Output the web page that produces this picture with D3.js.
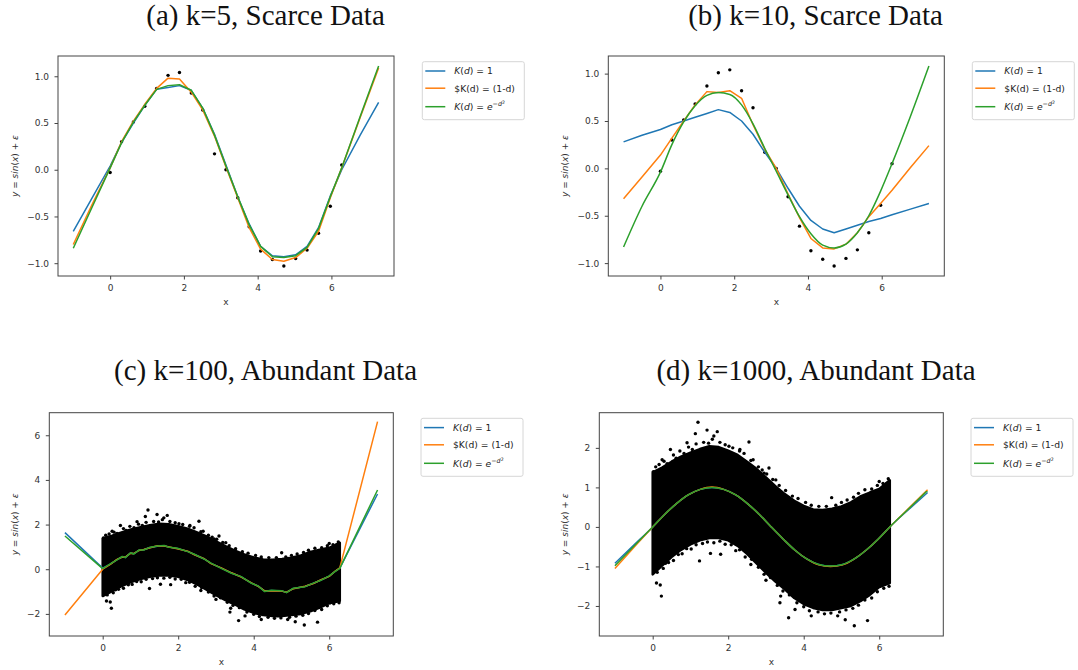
<!DOCTYPE html>
<html>
<head>
<meta charset="utf-8">
<script src="https://cdn.jsdelivr.net/npm/d3@7"></script>
<style>
body { margin: 0; background: #fff; }
svg { display: block; }
.tick text { font-family: "DejaVu Sans", sans-serif; font-size: 9px; fill: #333; }
.tick line { stroke: #444; }
</style>
</head>
<body>
<script>
// x positions where the regression curves were evaluated (panels a, b, d)
var xGrid = [-1, -0.5, 0, 0.31, 0.63, 0.94, 1.26, 1.57, 1.88, 2.20, 2.51, 2.83, 3.14, 3.46, 3.77, 4.08, 4.40, 4.71, 5.03, 5.34, 5.65, 5.97, 6.28, 6.78, 7.28];

// the 21 noisy samples shown in the scarce-data panels
var scatterX = [0, 0.31, 0.63, 0.94, 1.26, 1.57, 1.88, 2.20, 2.51, 2.83, 3.14, 3.46, 3.77, 4.08, 4.40, 4.71, 5.03, 5.34, 5.65, 5.97, 6.28];
var scatterY = [-0.03, 0.30, 0.51, 0.68, 0.87, 1.01, 1.04, 0.82, 0.64, 0.17, 0.00, -0.30, -0.61, -0.87, -0.96, -1.03, -0.95, -0.86, -0.68, -0.39, 0.05];

// (a) k=5
var blueA   = [-0.66, -0.31, 0.04, 0.29, 0.50, 0.69, 0.86, 0.88, 0.90, 0.85, 0.66, 0.38, 0.05, -0.29, -0.58, -0.82, -0.92, -0.93, -0.91, -0.82, -0.62, -0.28, 0.00, 0.37, 0.72];
var orangeA = [-0.80, -0.38, 0.02, 0.30, 0.52, 0.70, 0.87, 0.98, 0.97, 0.83, 0.64, 0.36, 0.03, -0.30, -0.62, -0.85, -0.96, -0.98, -0.94, -0.84, -0.66, -0.30, 0.02, 0.56, 1.09];
var greenA  = [-0.84, -0.41, 0.02, 0.29, 0.51, 0.69, 0.86, 0.90, 0.91, 0.85, 0.66, 0.37, 0.04, -0.29, -0.59, -0.82, -0.93, -0.94, -0.92, -0.83, -0.63, -0.29, 0.02, 0.57, 1.11];

// (b) k=10
var blueB   = [0.28, 0.35, 0.41, 0.46, 0.50, 0.54, 0.58, 0.62, 0.59, 0.50, 0.36, 0.17, 0.00, -0.21, -0.40, -0.55, -0.64, -0.68, -0.64, -0.60, -0.56, -0.53, -0.49, -0.43, -0.37];
var orangeB = [-0.32, -0.09, 0.14, 0.32, 0.50, 0.67, 0.81, 0.80, 0.82, 0.74, 0.46, 0.20, 0.00, -0.27, -0.52, -0.74, -0.84, -0.85, -0.80, -0.68, -0.51, -0.37, -0.23, 0.01, 0.24];
var greenB  = [-0.83, -0.40, -0.04, 0.25, 0.49, 0.66, 0.77, 0.80, 0.78, 0.67, 0.47, 0.21, -0.03, -0.28, -0.51, -0.69, -0.81, -0.84, -0.80, -0.68, -0.50, -0.24, 0.05, 0.55, 1.08];

// (c) k=100 : the curve is jagged, so it has its own x positions
var xGridC  = [-1, 0, 0.20, 0.38, 0.52, 0.60, 0.74, 0.82, 0.96, 1.09, 1.23, 1.45, 1.63, 1.76, 1.98, 2.25, 2.43, 2.69, 2.87, 3.14, 3.41, 3.67, 3.94, 4.12, 4.29, 4.47, 4.74, 4.87, 5.05, 5.36, 5.58, 5.80, 6.00, 6.16, 6.28, 7.28];
var blueC   = [1.64, 0.05, 0.23, 0.43, 0.56, 0.53, 0.73, 0.69, 0.85, 0.87, 0.96, 1.03, 1.05, 0.99, 0.93, 0.80, 0.66, 0.46, 0.26, 0.05, -0.17, -0.34, -0.62, -0.76, -0.98, -0.95, -0.97, -1.04, -0.86, -0.77, -0.63, -0.47, -0.31, -0.09, 0.05, 3.37];
var orangeC = [-2.05, 0.00, 0.22, 0.44, 0.55, 0.54, 0.72, 0.70, 0.84, 0.88, 0.95, 1.05, 1.04, 1.00, 0.92, 0.81, 0.65, 0.47, 0.25, 0.06, -0.16, -0.35, -0.61, -0.77, -0.97, -0.96, -0.98, -1.03, -0.87, -0.76, -0.64, -0.46, -0.32, -0.08, 0.06, 6.61];
var greenC  = [1.49, 0.03, 0.24, 0.42, 0.57, 0.52, 0.74, 0.68, 0.86, 0.86, 0.97, 1.04, 1.06, 0.98, 0.94, 0.79, 0.67, 0.45, 0.27, 0.04, -0.18, -0.33, -0.63, -0.75, -1.00, -0.94, -0.96, -1.05, -0.85, -0.78, -0.62, -0.48, -0.30, -0.10, 0.04, 3.55];

// (d) k=1000
var blueD   = [-0.92, -0.46, 0.00, 0.31, 0.59, 0.81, 0.95, 1.00, 0.95, 0.81, 0.59, 0.31, 0.00, -0.31, -0.59, -0.81, -0.95, -0.99, -0.95, -0.81, -0.59, -0.31, 0.00, 0.44, 0.87];
var orangeD = [-1.05, -0.52, 0.00, 0.31, 0.59, 0.81, 0.95, 1.01, 0.95, 0.81, 0.59, 0.31, 0.00, -0.31, -0.59, -0.81, -0.96, -1.00, -0.96, -0.81, -0.59, -0.31, 0.00, 0.47, 0.94];
var greenD  = [-0.98, -0.49, 0.00, 0.31, 0.59, 0.81, 0.95, 1.00, 0.95, 0.81, 0.59, 0.31, 0.00, -0.31, -0.59, -0.81, -0.95, -0.99, -0.95, -0.81, -0.59, -0.31, 0.00, 0.46, 0.92];

// abundant data: the dense cloud is drawn as its upper / lower envelope
var cloudX     = [0, 0.25, 0.5, 0.75, 1, 1.25, 1.5, 1.75, 2, 2.25, 2.5, 2.75, 3, 3.25, 3.5, 3.75, 4, 4.25, 4.5, 4.75, 5, 5.25, 5.5, 5.75, 6, 6.28];
var cloudUpper = [1.38, 1.5, 1.65, 1.78, 1.88, 1.97, 2.04, 2.02, 1.93, 1.82, 1.65, 1.47, 1.25, 1.03, 0.83, 0.66, 0.53, 0.44, 0.43, 0.46, 0.52, 0.62, 0.77, 0.87, 0.96, 1.18];
var cloudLower = [-1.2, -0.98, -0.76, -0.58, -0.44, -0.34, -0.28, -0.28, -0.34, -0.48, -0.68, -0.92, -1.16, -1.38, -1.58, -1.8, -1.95, -2.05, -2.1, -2.1, -2.05, -2.0, -1.88, -1.72, -1.52, -1.42];

// ragged points along the edge of the cloud
var edgeX = [0.08, 0.17, 0.30, 0.38, 0.55, 0.62, 0.72, 0.83, 0.95, 1.05, 1.15, 1.35, 1.48, 1.58, 1.78, 1.92, 2.02, 2.12, 2.30, 2.42, 2.60, 2.80, 2.90, 3.02, 3.18, 3.35, 3.52, 3.70, 3.85, 4.05, 4.20, 4.40, 4.60, 4.85, 5.00, 5.15, 5.32, 5.45, 5.62, 5.80, 5.95, 6.10,
             0.12, 0.28, 0.42, 0.55, 0.68, 0.78, 0.90, 1.02, 1.15, 1.32, 1.45, 1.62, 1.78, 1.92, 2.08, 2.30, 2.45, 2.62, 2.80, 2.95, 3.12, 3.30, 3.45, 3.62, 3.82, 4.00, 4.15, 4.38, 4.55, 4.72, 4.95, 5.12, 5.30, 5.45, 5.62, 5.80, 5.95, 6.12];
var edgeY = [1.52, 1.58, 1.66, 1.60, 1.82, 1.74, 1.92, 1.86, 2.02, 1.96, 2.10, 2.14, 2.12, 2.22, 2.14, 2.08, 2.04, 2.00, 1.92, 1.86, 1.68, 1.52, 1.44, 1.34, 1.20, 1.05, 0.92, 0.78, 0.72, 0.62, 0.55, 0.52, 0.52, 0.55, 0.62, 0.68, 0.75, 0.85, 0.94, 0.96, 1.05, 1.10,
             -1.15, -1.05, -0.90, -0.85, -0.70, -0.68, -0.55, -0.56, -0.45, -0.42, -0.38, -0.40, -0.36, -0.44, -0.45, -0.58, -0.76, -0.82, -1.02, -1.20, -1.28, -1.48, -1.62, -1.72, -1.92, -2.02, -2.12, -2.15, -2.20, -2.18, -2.15, -2.10, -2.06, -1.98, -1.85, -1.80, -1.64, -1.55];

// the stray points well outside the cloud
var strayX = [1.20, 1.13, 1.44, 1.71, 1.62, 2.55, 2.31, 2.66, 2.95, 3.08, 3.26, 0.25, 0.47, 0.91, 0.02, 4.74, 6.00, 6.24, 6.20,
              0.10, 0.20, 0.23, 0.34, 1.24, 1.53, 1.80, 3.39, 3.77, 3.37, 5.34, 5.69, 6.02, 6.26, 4.20, 4.90, 5.10, 0.05, 2.20, 2.60, 3.00, 3.60];
var strayY = [2.65, 2.36, 2.45, 2.41, 2.30, 2.15, 1.96, 1.70, 1.36, 1.49, 1.19, 1.70, 1.96, 2.13, 1.40, 0.74, 1.15, 1.22, 1.10,
              -1.42, -1.47, -1.75, -0.92, -0.86, -0.67, -0.69, -1.75, -2.09, -1.92, -2.50, -2.37, -1.50, -1.50, -2.25, -2.25, -2.35, -1.10, -0.60, -0.95, -1.35, -2.30];

var xTicks = [0, 2, 4, 6];
var colors = ["#1f77b4", "#ff7f0e", "#2ca02c"];

var svg = d3.select('body')
            .append('svg')
            .attr('width', 1078)
            .attr('height', 670);

var jag = d3.curveLinear, smooth = d3.curveMonotoneX;

// one entry per sub-figure: box = [left, top, right, bottom]
var panels = [
  {title: "(a) k=5, Scarce Data", tx: 265.5, ty: 25, box: [58, 56, 394, 276],
   yDomain: [-1.137, 1.217], yTicks: [-1, -0.5, 0, 0.5, 1], yFmt: ".1f",
   xs: xGrid, series: [blueA, orangeA, greenA], curves: [jag, jag, jag], cloud: false, legend: [422.3, 61.7], ylab: 15},
  {title: "(b) k=10, Scarce Data", tx: 815.5, ty: 25, box: [608.3, 56, 944.3, 276],
   yDomain: [-1.136, 1.186], yTicks: [-1, -0.5, 0, 0.5, 1], yFmt: ".1f",
   xs: xGrid, series: [blueB, orangeB, greenB], curves: [jag, jag, smooth], cloud: false, legend: [972.3, 61.7], ylab: 565},
  {title: "(c) k=100, Abundant Data", tx: 265.5, ty: 380, box: [49.3, 412.7, 393.3, 636],
   yDomain: [-2.99, 7.01], yTicks: [-2, 0, 2, 4, 6], yFmt: "d",
   xs: xGridC, series: [blueC, orangeC, greenC], curves: [jag, jag, jag], cloud: true, legend: [421, 418.3], ylab: 15},
  {title: "(d) k=1000, Abundant Data", tx: 816, ty: 380, box: [599.3, 412.7, 943.3, 636],
   yDomain: [-2.76, 2.89], yTicks: [-2, -1, 0, 1, 2], yFmt: "d",
   xs: xGrid, series: [blueD, orangeD, greenD], curves: [smooth, smooth, smooth], cloud: true, legend: [971, 418.3], ylab: 565}
];

panels.forEach(drawPanel);

function dots(g, xs, ys, x, y) {
    g.append('g')
        .selectAll('circle')
        .data(ys)
        .enter()
        .append('circle')
        .attr('cx', function(d, i) { return x(xs[i]); })
        .attr('cy', function(d) { return y(d); })
        .attr('r', 1.7)
        .attr('fill', '#000');
}

function drawPanel(p) {
    var x = d3.scaleLinear().domain([-1.414, 7.697]).range([p.box[0], p.box[2]]);
    var y = d3.scaleLinear().domain(p.yDomain).range([p.box[3], p.box[1]]);
    var g = svg.append('g');

    // title
    g.append('text')
        .attr('x', p.tx)
        .attr('y', p.ty)
        .attr('text-anchor', 'middle')
        .style('font-family', '"Liberation Serif", serif')
        .style('font-size', '29px')
        .style('fill', '#111')
        .text(p.title);

    // data points
    if (p.cloud) {
        var area = d3.area()
            .x(function(d, i) { return x(cloudX[i]); })
            .y0(function(d, i) { return y(cloudLower[i]); })
            .y1(function(d) { return y(d); });
        g.append('path')
            .datum(cloudUpper)
            .attr('d', area)
            .attr('fill', '#000')
            .attr('stroke', '#000')
            .attr('stroke-width', 2.5)
            .attr('stroke-linejoin', 'round');
        dots(g, edgeX, edgeY, x, y);
        dots(g, strayX, strayY, x, y);
    } else {
        dots(g, scatterX, scatterY, x, y);
    }

    // the three kernel curves
    p.series.forEach(function(s, k) {
        var line = d3.line()
            .curve(p.curves[k])
            .x(function(d, i) { return x(p.xs[i]); })
            .y(function(d) { return y(d); });
        g.append('path')
            .datum(s)
            .attr('d', line)
            .attr('fill', 'none')
            .attr('stroke', colors[k])
            .attr('stroke-width', 1.5)
            .attr('stroke-linejoin', 'round');
    });

    // frame
    g.append('rect')
        .attr('x', p.box[0])
        .attr('y', p.box[1])
        .attr('width', p.box[2] - p.box[0])
        .attr('height', p.box[3] - p.box[1])
        .attr('fill', 'none')
        .attr('stroke', '#444')
        .attr('stroke-width', 1);

    // axes
    g.append('g')
        .attr('transform', 'translate(0,' + p.box[3] + ')')
        .call(d3.axisBottom(x).tickValues(xTicks).tickSize(3.5).tickPadding(5.5))
        .call(function(a) { a.select('.domain').remove(); });
    g.append('g')
        .attr('transform', 'translate(' + p.box[0] + ',0)')
        .call(d3.axisLeft(y).tickValues(p.yTicks).tickFormat(d3.format(p.yFmt)).tickSize(3.5).tickPadding(5.5))
        .call(function(a) { a.select('.domain').remove(); });
    g.selectAll('.tick text').style('font-family', '"DejaVu Sans", sans-serif').style('font-size', '9px');

    // x axis label
    g.append('text')
        .attr('x', (p.box[0] + p.box[2]) / 2)
        .attr('y', p.box[3] + 29)
        .attr('text-anchor', 'middle')
        .style('font-family', '"DejaVu Sans", sans-serif')
        .style('font-size', '9px')
        .style('fill', '#333')
        .text('x');

    // y axis label
    var yl = g.append('text')
        .attr('transform', 'translate(' + (p.ylab + 3) + ',' + ((p.box[1] + p.box[3]) / 2) + ') rotate(-90)')
        .attr('text-anchor', 'middle')
        .style('font-family', '"DejaVu Sans", sans-serif')
        .style('font-size', '9px')
        .style('fill', '#333');
    mathText(yl, [["y", 1], [" = ", 0], ["sin", 1], ["(", 0], ["x", 1], [") + ", 0], ["ε", 1]]);

    drawLegend(g, p.legend[0], p.legend[1]);
}

// pieces: [text, italic?]
function mathText(sel, pieces) {
    pieces.forEach(function(pc) {
        sel.append('tspan')
            .style('font-style', pc[1] ? 'italic' : 'normal')
            .text(pc[0]);
    });
}

function drawLegend(g, lx, ly) {
    g.append('rect')
        .attr('x', lx)
        .attr('y', ly)
        .attr('width', 102)
        .attr('height', 58)
        .attr('rx', 2)
        .attr('fill', '#fff')
        .attr('fill-opacity', 0.8)
        .attr('stroke', '#d6d6d6')
        .attr('stroke-width', 1);

    var rows = [9.3, 26.5, 45];
    rows.forEach(function(r, k) {
        g.append('line')
            .attr('x1', lx + 3)
            .attr('x2', lx + 23)
            .attr('y1', ly + r)
            .attr('y2', ly + r)
            .attr('stroke', colors[k])
            .attr('stroke-width', 1.5);
    });

    var t = function(k) {
        return g.append('text')
            .attr('x', lx + 32)
            .attr('y', ly + rows[k] + 3.3)
            .style('font-family', '"DejaVu Sans", sans-serif')
            .style('font-size', '9.2px')
            .style('fill', '#222');
    };
    mathText(t(0), [["K", 1], ["(", 0], ["d", 1], [") = 1", 0]]);
    t(1).text("$K(d) = (1-d)");
    var t3 = t(2);
    mathText(t3, [["K", 1], ["(", 0], ["d", 1], [") = ", 0], ["e", 1]]);
    t3.append('tspan').attr('dy', -4).style('font-size', '6.4px').text('−');
    t3.append('tspan').style('font-size', '6.4px').style('font-style', 'italic').text('d');
    t3.append('tspan').attr('dy', -2).style('font-size', '4.6px').text('2');
}
</script>
</body>
</html>
